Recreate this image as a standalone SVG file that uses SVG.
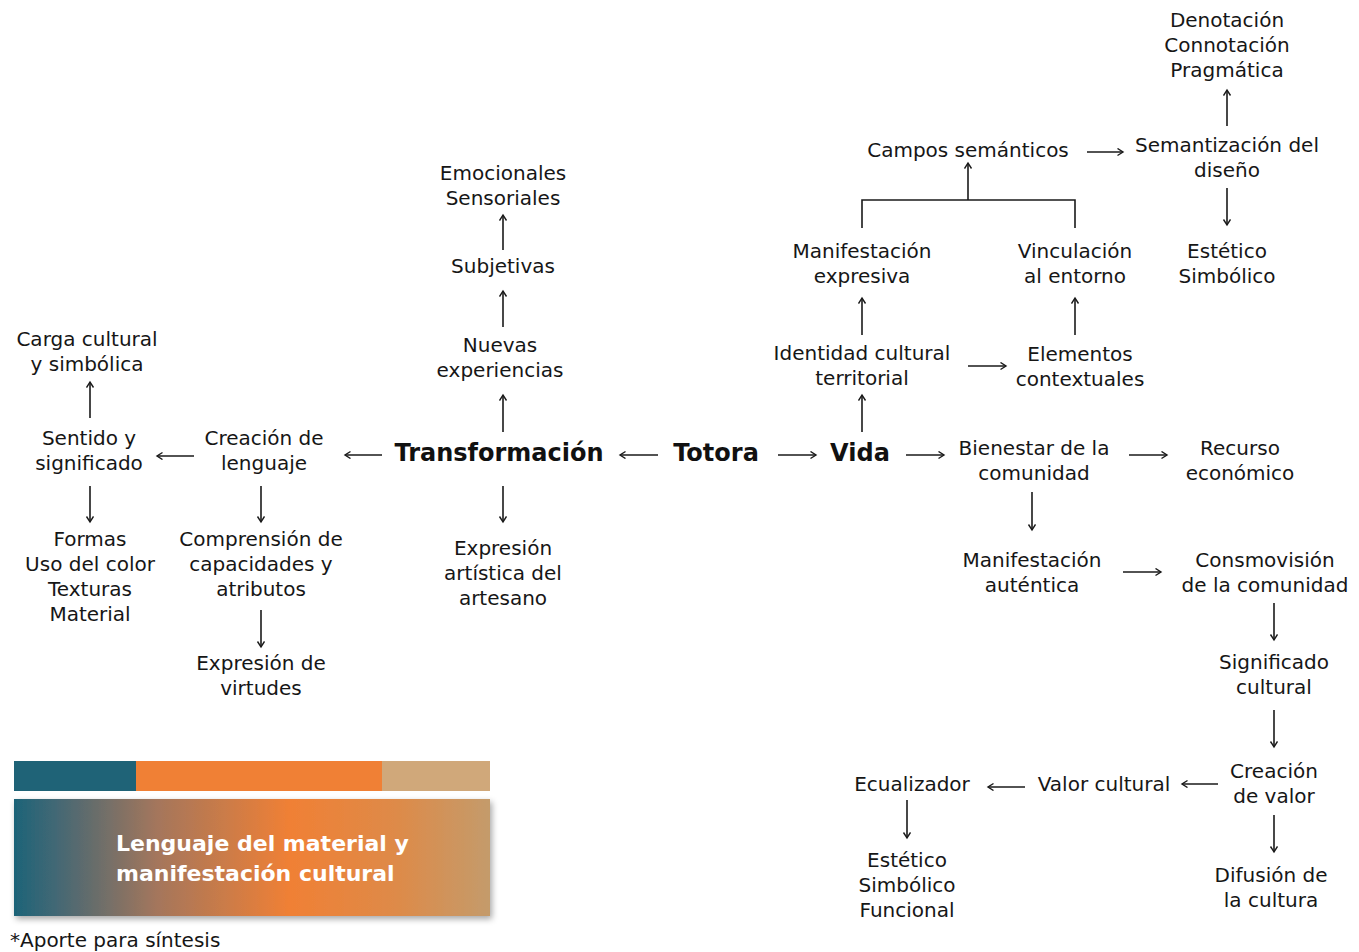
<svg xmlns="http://www.w3.org/2000/svg" width="1359" height="952" viewBox="0 0 1359 952">
  <defs>
    <style>
      .t { font-family: "DejaVu Sans", "Liberation Sans", sans-serif; font-size: 20px; fill: #161616; text-anchor: middle; }
      .b { font-family: "DejaVu Sans", "Liberation Sans", sans-serif; font-size: 24px; font-weight: bold; fill: #111; text-anchor: middle; }
      .w { font-family: "DejaVu Sans", "Liberation Sans", sans-serif; font-size: 22px; font-weight: bold; fill: #ffffff; }
      .n { font-family: "DejaVu Sans", "Liberation Sans", sans-serif; font-size: 20px; fill: #161616; }
      .c { fill: none; stroke: #1a1a1a; stroke-width: 1.6; }
      .a { marker-end: url(#head); }
    </style>
    <marker id="head" markerWidth="8" markerHeight="10" refX="6" refY="4" orient="auto" markerUnits="userSpaceOnUse">
      <path d="M0.5,0.5 L6,4 L0.5,7.5" fill="none" stroke="#1a1a1a" stroke-width="1.4"/>
    </marker>
    <linearGradient id="band" x1="0" y1="0" x2="1" y2="0">
      <stop offset="0" stop-color="#1d6478"/>
      <stop offset="0.08" stop-color="#3f6775"/>
      <stop offset="0.3" stop-color="#a4765c"/>
      <stop offset="0.58" stop-color="#f08035"/>
      <stop offset="0.8" stop-color="#de8a48"/>
      <stop offset="1" stop-color="#c49b6b"/>
    </linearGradient>
    <filter id="shadow" x="-5%" y="-10%" width="110%" height="125%">
      <feDropShadow dx="2" dy="3" stdDeviation="3" flood-color="#000" flood-opacity="0.35"/>
    </filter>
  </defs>

  <!-- connectors -->
  <g id="connectors">
    <line class="c a" x1="1227" y1="126" x2="1227" y2="90"/>
    <line class="c a" x1="1087" y1="152" x2="1123" y2="152"/>
    <line class="c a" x1="1227" y1="188" x2="1227" y2="225"/>
    <polyline class="c" points="862,228 862,200 1075,200 1075,228"/>
    <line class="c a" x1="968" y1="200" x2="968" y2="163"/>
    <line class="c a" x1="862" y1="335" x2="862" y2="298"/>
    <line class="c a" x1="1075" y1="335" x2="1075" y2="298"/>
    <line class="c a" x1="968" y1="366" x2="1006" y2="366"/>
    <line class="c a" x1="862" y1="432" x2="862" y2="395"/>
    <line class="c a" x1="778" y1="455" x2="816" y2="455"/>
    <line class="c a" x1="658" y1="455" x2="620" y2="455"/>
    <line class="c a" x1="906" y1="455" x2="944" y2="455"/>
    <line class="c a" x1="1129" y1="455" x2="1167" y2="455"/>
    <line class="c a" x1="1032" y1="492" x2="1032" y2="530"/>
    <line class="c a" x1="1123" y1="572" x2="1161" y2="572"/>
    <line class="c a" x1="1274" y1="603" x2="1274" y2="640"/>
    <line class="c a" x1="1274" y1="710" x2="1274" y2="747"/>
    <line class="c a" x1="1218" y1="784" x2="1182" y2="784"/>
    <line class="c a" x1="1025" y1="787" x2="988" y2="787"/>
    <line class="c a" x1="907" y1="800" x2="907" y2="838"/>
    <line class="c a" x1="1274" y1="815" x2="1274" y2="852"/>
    <line class="c a" x1="503" y1="250" x2="503" y2="215"/>
    <line class="c a" x1="503" y1="327" x2="503" y2="291"/>
    <line class="c a" x1="503" y1="432" x2="503" y2="395"/>
    <line class="c a" x1="503" y1="486" x2="503" y2="522"/>
    <line class="c a" x1="382" y1="455" x2="345" y2="455"/>
    <line class="c a" x1="194" y1="456" x2="157" y2="456"/>
    <line class="c a" x1="90" y1="418" x2="90" y2="382"/>
    <line class="c a" x1="90" y1="486" x2="90" y2="522"/>
    <line class="c a" x1="261" y1="486" x2="261" y2="522"/>
    <line class="c a" x1="261" y1="610" x2="261" y2="647"/>
  </g>

  <!-- core terms -->
  <g id="totora"><text class="b" x="716" y="461">Totora</text></g>
  <g id="vida"><text class="b" x="860" y="461">Vida</text></g>
  <g id="transformacion"><text class="b" x="499" y="461">Transformación</text></g>

  <!-- Vida branch -->
  <g id="denotacion">
    <text class="t" x="1227" y="27">Denotación</text>
    <text class="t" x="1227" y="52">Connotación</text>
    <text class="t" x="1227" y="77">Pragmática</text>
  </g>
  <g id="campos"><text class="t" x="968" y="157">Campos semánticos</text></g>
  <g id="semantizacion">
    <text class="t" x="1227" y="152">Semantización del</text>
    <text class="t" x="1227" y="177">diseño</text>
  </g>
  <g id="estetico-simbolico">
    <text class="t" x="1227" y="258">Estético</text>
    <text class="t" x="1227" y="283">Simbólico</text>
  </g>
  <g id="manifestacion-expresiva">
    <text class="t" x="862" y="258">Manifestación</text>
    <text class="t" x="862" y="283">expresiva</text>
  </g>
  <g id="vinculacion">
    <text class="t" x="1075" y="258">Vinculación</text>
    <text class="t" x="1075" y="283">al entorno</text>
  </g>
  <g id="identidad">
    <text class="t" x="862" y="360">Identidad cultural</text>
    <text class="t" x="862" y="385">territorial</text>
  </g>
  <g id="elementos">
    <text class="t" x="1080" y="361">Elementos</text>
    <text class="t" x="1080" y="386">contextuales</text>
  </g>
  <g id="bienestar">
    <text class="t" x="1034" y="455">Bienestar de la</text>
    <text class="t" x="1034" y="480">comunidad</text>
  </g>
  <g id="recurso">
    <text class="t" x="1240" y="455">Recurso</text>
    <text class="t" x="1240" y="480">económico</text>
  </g>
  <g id="manifestacion-autentica">
    <text class="t" x="1032" y="567">Manifestación</text>
    <text class="t" x="1032" y="592">auténtica</text>
  </g>
  <g id="cosmovision">
    <text class="t" x="1265" y="567">Consmovisión</text>
    <text class="t" x="1265" y="592">de la comunidad</text>
  </g>
  <g id="significado">
    <text class="t" x="1274" y="669">Significado</text>
    <text class="t" x="1274" y="694">cultural</text>
  </g>
  <g id="creacion-valor">
    <text class="t" x="1274" y="778">Creación</text>
    <text class="t" x="1274" y="803">de valor</text>
  </g>
  <g id="valor-cultural"><text class="t" x="1104" y="791">Valor cultural</text></g>
  <g id="ecualizador"><text class="t" x="912" y="791">Ecualizador</text></g>
  <g id="estetico-funcional">
    <text class="t" x="907" y="867">Estético</text>
    <text class="t" x="907" y="892">Simbólico</text>
    <text class="t" x="907" y="917">Funcional</text>
  </g>
  <g id="difusion">
    <text class="t" x="1271" y="882">Difusión de</text>
    <text class="t" x="1271" y="907">la cultura</text>
  </g>

  <!-- Transformación branch -->
  <g id="emocionales">
    <text class="t" x="503" y="180">Emocionales</text>
    <text class="t" x="503" y="205">Sensoriales</text>
  </g>
  <g id="subjetivas"><text class="t" x="503" y="273">Subjetivas</text></g>
  <g id="nuevas">
    <text class="t" x="500" y="352">Nuevas</text>
    <text class="t" x="500" y="377">experiencias</text>
  </g>
  <g id="expresion-artistica">
    <text class="t" x="503" y="555">Expresión</text>
    <text class="t" x="503" y="580">artística del</text>
    <text class="t" x="503" y="605">artesano</text>
  </g>
  <g id="creacion-lenguaje">
    <text class="t" x="264" y="445">Creación de</text>
    <text class="t" x="264" y="470">lenguaje</text>
  </g>
  <g id="sentido">
    <text class="t" x="89" y="445">Sentido y</text>
    <text class="t" x="89" y="470">significado</text>
  </g>
  <g id="carga">
    <text class="t" x="87" y="346">Carga cultural</text>
    <text class="t" x="87" y="371">y simbólica</text>
  </g>
  <g id="formas">
    <text class="t" x="90" y="546">Formas</text>
    <text class="t" x="90" y="571">Uso del color</text>
    <text class="t" x="90" y="596">Texturas</text>
    <text class="t" x="90" y="621">Material</text>
  </g>
  <g id="comprension">
    <text class="t" x="261" y="546">Comprensión de</text>
    <text class="t" x="261" y="571">capacidades y</text>
    <text class="t" x="261" y="596">atributos</text>
  </g>
  <g id="virtudes">
    <text class="t" x="261" y="670">Expresión de</text>
    <text class="t" x="261" y="695">virtudes</text>
  </g>

  <!-- title band -->
  <g id="legend">
    <rect x="14" y="761" width="122" height="30" fill="#1f6377"/>
    <rect x="136" y="761" width="246" height="30" fill="#f08035"/>
    <rect x="382" y="761" width="108" height="30" fill="#d0a87a"/>
    <rect x="14" y="799" width="476" height="117" fill="url(#band)" filter="url(#shadow)"/>
    <text class="w" x="116" y="851">Lenguaje del material y</text>
    <text class="w" x="116" y="881">manifestación cultural</text>
  </g>
  <g id="nota"><text class="n" x="10" y="947">*Aporte para síntesis</text></g>
</svg>
